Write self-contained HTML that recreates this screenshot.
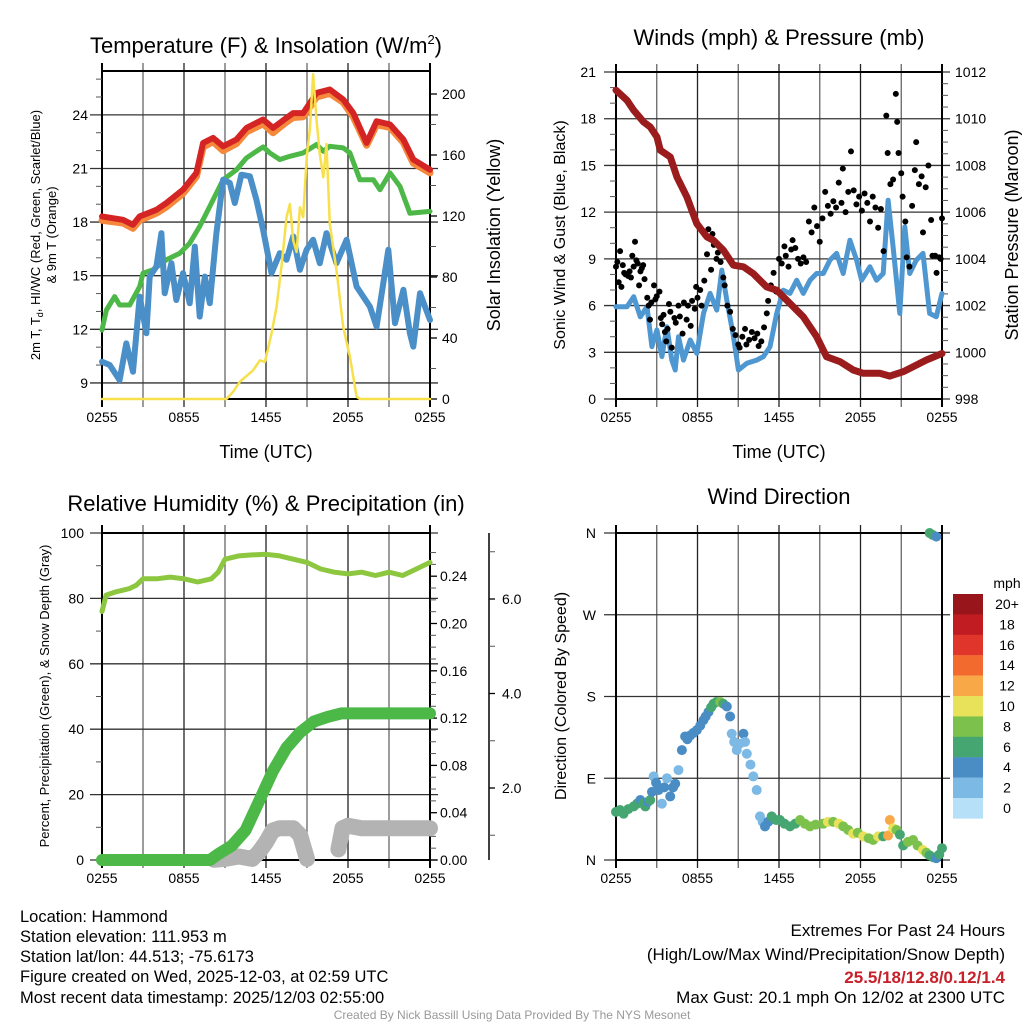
<!DOCTYPE html>
<html><head><meta charset="utf-8"><title>Mesonet Meteogram - Hammond</title>
<style>
html,body{margin:0;padding:0;background:#fff;}
svg{display:block;font-family:"Liberation Sans",Arial,sans-serif;}
</style></head>
<body>
<svg id="chart" xmlns="http://www.w3.org/2000/svg" width="1024" height="1024" viewBox="0 0 1024 1024">
<rect x="0" y="0" width="1024" height="1024" fill="#fff"/>
<g id="layer"></g>
<!-- Titles -->
<text x="266" y="53" font-size="22" text-anchor="middle">Temperature (F) &amp; Insolation (W/m<tspan font-size="13" dy="-9">2</tspan><tspan dy="9">)</tspan></text>
<text x="779" y="45" font-size="22" text-anchor="middle">Winds (mph) &amp; Pressure (mb)</text>
<text x="266" y="511" font-size="22" text-anchor="middle">Relative Humidity (%) &amp; Precipitation (in)</text>
<text x="779" y="504" font-size="22" text-anchor="middle">Wind Direction</text>
<!-- axis titles -->
<text x="266" y="458" font-size="18" text-anchor="middle">Time (UTC)</text>
<text x="779" y="458" font-size="18" text-anchor="middle">Time (UTC)</text>
<text transform="translate(40,235) rotate(-90)" font-size="13" text-anchor="middle">2m T, T<tspan font-size="9" dy="3">d</tspan><tspan dy="-3">, HI/WC (Red, Green, Scarlet/Blue)</tspan></text>
<text transform="translate(56,235) rotate(-90)" font-size="13" text-anchor="middle">&amp; 9m T (Orange)</text>
<text transform="translate(500,235) rotate(-90)" font-size="18" text-anchor="middle">Solar Insolation (Yellow)</text>
<text transform="translate(565,235) rotate(-90)" font-size="16" text-anchor="middle">Sonic Wind &amp; Gust (Blue, Black)</text>
<text transform="translate(1018,235) rotate(-90)" font-size="18" text-anchor="middle">Station Pressure (Maroon)</text>
<text transform="translate(49,696) rotate(-90)" font-size="13" text-anchor="middle">Percent, Precipitation (Green), &amp; Snow Depth (Gray)</text>
<text transform="translate(566,696) rotate(-90)" font-size="16" text-anchor="middle">Direction (Colored By Speed)</text>
<!-- footer -->
<g font-size="16.5">
<text x="20" y="922">Location: Hammond</text>
<text x="20" y="942">Station elevation: 111.953 m</text>
<text x="20" y="962">Station lat/lon: 44.513; -75.6173</text>
<text x="20" y="982">Figure created on Wed, 2025-12-03, at 02:59 UTC</text>
<text x="20" y="1003">Most recent data timestamp: 2025/12/03 02:55:00</text>
</g>
<g font-size="17" text-anchor="end">
<text x="1005" y="936">Extremes For Past 24 Hours</text>
<text x="1005" y="960">(High/Low/Max Wind/Precipitation/Snow Depth)</text>
<text x="1005" y="983" fill="#c8202a" font-weight="bold">25.5/18/12.8/0.12/1.4</text>
<text x="1005" y="1003">Max Gust: 20.1 mph On 12/02 at 2300 UTC</text>
</g>
<text x="512" y="1019" font-size="12" fill="#999" text-anchor="middle">Created By Nick Bassill Using Data Provided By The NYS Mesonet</text>
</svg>
<script>
// ---------- Data ----------
const timeLabels = ["0255","0855","1455","2055","0255"];
const timeLabelHours = [0,6,12,18,24];
const tempTicks = [9,12,15,18,21,24];
const solarTicks = [0,40,80,120,160,200];
const windTicks = [0,3,6,9,12,15,18,21];
const presTicks = [998,1000,1002,1004,1006,1008,1010,1012];
const rhTicks = [0,20,40,60,80,100];
const precipTicks = ["0.00","0.04","0.08","0.12","0.16","0.20","0.24"];
const snowTicks = ["2.0","4.0","6.0"];
const dirLabels = ["N","E","S","W","N"];
const dirTickDeg = [0,90,180,270,360];

const tempTimes = [0,1.54,2.27,2.76,3.98,4.71,5.93,6.91,7.4,8.13,8.86,9.84,10.57,11.79,12.52,13.5,13.99,14.72,15.7,16.67,17.65,18.38,19.36,20.09,21.07,22.05,22.78,24];
const tempVals = [18.32,18.13,17.85,18.32,18.69,19.07,19.81,20.75,22.43,22.71,22.24,22.62,23.27,23.74,23.27,23.83,24.1,24.1,25.23,25.42,24.86,24.11,22.43,23.64,23.46,22.62,21.5,20.93];
const temp9mVals = [18.1,17.95,17.65,18.1,18.5,18.85,19.6,20.55,22.2,22.5,22.0,22.4,23.05,23.5,23.0,23.6,23.85,23.9,25.0,25.2,24.7,23.9,22.3,23.45,23.3,22.45,21.3,20.75];
const hiTimes = [0,0.32,0.93,1.29,2.03,2.76,3.0,3.74,4.71,5.69,6.42,7.15,7.89,8.86,9.84,10.57,11.79,12.28,13.01,13.75,14.72,15.7,16.19,16.67,17.65,18.14,18.87,19.85,20.34,21.07,21.8,22.53,24];
const hiVals = [11.96,13.08,13.83,13.36,13.36,14.39,15.14,15.33,15.89,16.26,16.82,17.76,18.88,20.37,20.93,21.59,22.21,21.87,21.5,21.68,21.87,22.34,21.96,22.24,22.15,21.87,20.37,20.37,19.81,20.75,20.0,18.5,18.6];
const dewTimes = [0,0.56,1.29,1.78,2.27,2.76,3.25,3.49,3.98,4.35,4.59,5.08,5.44,5.93,6.42,6.79,7.15,7.52,7.89,8.37,8.86,9.35,9.72,10.2,10.82,11.3,11.79,12.4,13.01,13.5,13.99,14.48,14.97,15.45,15.94,16.43,17.16,17.9,18.63,19.6,20.09,20.58,20.95,21.44,22.05,22.53,22.78,23.27,24];
const dewVals = [10.19,10.0,9.16,11.21,9.63,13.83,11.78,14.95,15.51,17.38,14.02,15.7,13.64,15.14,13.46,16.63,12.71,14.95,13.46,17.38,20.37,20.19,19.07,20.65,20.56,19.25,17.57,15.14,16.26,15.89,17.2,15.33,16.45,17.01,15.7,17.38,15.7,17.01,14.39,13.27,12.15,14.58,16.45,12.34,14.21,11.78,11.03,14.02,12.52];
const solarTimes = [0,9.11,9.6,10.08,11.06,11.55,11.92,12.4,12.77,13.13,13.5,13.75,13.99,14.24,14.48,14.72,14.97,15.21,15.45,15.7,15.94,16.19,16.43,16.67,17.16,17.65,18.14,18.63,18.87,24];
const solarVals = [0,0,4.8,11.3,18.9,25.4,24.3,42.9,60.3,86.5,119.2,127.9,104,96.4,125.8,119.2,158,177.5,213,182.4,160.6,145.4,167.2,114.8,84.3,47.3,27.7,1.5,0,0];

const presTimes = [0,0.81,1.3,2.03,2.52,3.01,3.26,4.0,4.48,5.22,5.95,6.69,7.18,7.91,8.64,9.38,10.11,11.09,11.83,12.81,13.79,14.77,15.5,16.48,17.46,18.2,19.42,20.16,21.14,21.87,22.85,24];
const presVals = [1011.22,1010.79,1010.36,1009.86,1009.65,1009.22,1008.65,1008.36,1007.51,1006.65,1005.51,1004.94,1004.79,1004.37,1003.73,1003.66,1003.37,1002.8,1002.66,1002.09,1001.52,1000.67,999.81,999.6,999.24,999.1,999.1,998.98,999.17,999.38,999.67,999.95];
const windTimes = [0,0.81,1.3,1.79,2.28,2.64,3.01,3.38,3.75,4.11,4.36,4.6,4.97,5.46,5.95,6.44,6.93,7.42,7.79,8.16,8.65,9.01,9.63,10.36,10.85,11.34,11.83,12.32,12.81,13.3,13.79,14.28,14.77,15.26,15.75,16.24,16.73,17.22,17.71,18.08,18.69,19.18,19.67,20.03,20.4,20.89,21.26,21.62,22.11,22.6,23.09,23.58,24];
const windVals = [5.92,5.92,6.57,5.28,5.92,3.36,4.43,2.72,4.64,2.5,1.86,4.0,2.5,3.79,2.93,5.5,6.78,5.71,8.28,6.35,4.0,1.86,2.29,2.5,2.72,3.36,5.5,6.99,6.78,7.63,6.78,7.63,8.06,8.06,8.92,9.35,8.06,10.2,8.92,7.63,8.49,7.63,8.06,12.77,9.77,5.5,11.06,8.06,8.92,9.35,5.5,5.28,6.78];
const gustTimes = [0,0.1,0.2,0.3,0.4,0.5,0.6,0.7,0.9,1.0,1.1,1.2,1.3,1.4,1.5,1.6,1.7,1.8,1.9,2.0,2.1,2.3,2.4,2.5,2.6,2.8,2.9,3.0,3.2,3.3,3.4,3.5,3.6,3.7,3.8,3.9,4.0,4.1,4.3,4.4,4.6,4.7,4.9,5.0,5.2,5.3,5.5,5.6,5.8,5.9,6.0,6.2,6.3,6.5,6.7,6.8,7.0,7.1,7.2,7.4,7.5,7.7,7.9,8.0,8.2,8.4,8.6,8.8,9.0,9.1,9.3,9.5,9.6,9.8,10.0,10.2,10.4,10.5,10.7,10.9,11.1,11.2,11.4,11.6,11.8,12.0,12.2,12.4,12.5,12.7,12.9,13.0,13.2,13.4,13.6,13.8,14.0,14.2,14.4,14.6,14.8,15.0,15.2,15.4,15.6,15.8,16.0,16.2,16.4,16.6,16.7,16.9,17.1,17.3,17.5,17.7,17.9,18.1,18.3,18.5,18.7,18.9,19.1,19.3,19.5,19.7,19.9,20.0,20.2,20.4,20.6,20.7,20.8,21.0,21.1,21.3,21.4,21.6,21.8,22.0,22.1,22.3,22.5,22.6,22.8,23.0,23.2,23.3,23.5,23.6,23.8,23.9,24.0];
const gustVals = [8.5,8.8,7.5,9.5,7.2,8.6,8.1,8.0,7.9,8.2,7.8,9.2,8.5,10.1,8.9,8.7,7.3,8.2,8.4,8.6,7.7,6.5,6.0,5.1,6.2,7.3,6.4,6.6,6.9,5.2,4.8,5.4,4.3,3.7,4.5,6.1,5.6,3.3,5.2,4.9,6.0,5.3,4.2,6.2,5.1,6.0,4.7,6.3,5.8,7.2,6.5,7.0,6.0,7.6,9.3,10.9,8.3,10.6,9.9,9.0,9.4,8.8,7.8,7.3,6.0,5.6,4.5,4.1,3.5,3.3,4.0,4.5,3.5,3.8,4.3,3.9,4.2,3.4,3.7,4.6,5.5,6.3,7.3,8.1,6.9,9.0,8.7,9.8,9.2,8.5,9.6,10.2,9.7,9.0,8.7,9.1,8.8,11.4,10.7,12.3,11.1,10.1,11.6,13.3,12.4,11.9,12.7,12.3,13.9,12.6,14.8,12.0,13.3,15.9,13.4,12.5,13.0,12.1,13.2,12.6,11.4,13.0,12.3,11.0,12.2,9.5,18.2,15.8,13.8,14.1,19.6,17.8,15.8,14.5,13.0,11.4,9.1,8.5,12.4,14.7,16.5,13.8,14.3,10.7,13.6,15.0,11.5,9.2,9.2,8.1,9.1,9.0,11.6];

const rhTimes = [0,0.3,1,2,2.5,3,4,5,6,7,8,8.5,9,10,11,12,13,14,15,16,17,18,19,20,21,22,23,24];
const rhVals = [76,81,82,83,84,86,86,86.5,86,85,86,88,92,93,93.3,93.5,93,92,91,89,88,87.5,88,87,88,87,89,91];
const precipTimes = [0,7.9,8.5,9.5,10.5,11.5,12.5,13.5,14.5,15.5,16.5,17.5,24];
const precipVals = [0,0,0.005,0.012,0.025,0.05,0.075,0.095,0.108,0.117,0.121,0.124,0.124];
const snowTimesA = [8.2,9,10,11,11.5,12,12.5,13,14,14.5,15];
const snowValsA = [0.48,0.5,0.55,0.5,0.65,0.85,1.1,1.15,1.15,1.0,0.5];
const snowTimesB = [17.3,17.6,18,19,24];
const snowValsB = [0.7,1.15,1.2,1.15,1.15];

const dirTimes = [0,0.3,0.56,0.9,1.3,1.55,1.79,2.0,2.16,2.35,2.52,2.65,2.77,2.95,3.13,3.38,3.55,3.75,3.99,4.2,4.36,4.6,4.85,5.09,5.25,5.46,5.7,5.95,6.2,6.44,6.6,6.81,7.0,7.18,7.4,7.67,7.9,8.16,8.4,8.52,8.7,8.89,9.1,9.38,9.5,9.63,9.9,10.11,10.36,10.6,10.8,10.97,11.2,11.46,11.8,12.07,12.4,12.81,13.2,13.55,13.9,14.28,14.7,15.26,15.6,15.99,16.4,16.73,17.1,17.46,17.8,18.2,18.6,18.93,19.3,19.67,20.03,20.16,20.4,20.65,20.9,21.14,21.5,21.87,22.2,22.6,22.85,23.09,23.35,23.58,23.8,24,23.09,23.3,23.58];
const dirVals = [53,55,51,56,59,62,66,62,59,64,66,75,92,85,77,62,80,90,70,80,84,99,121,136,133,137,140,143,148,154,158,163,168,172,174,174,172,169,158,139,130,121,128,139,130,117,105,92,77,48,42,37,42,48,44,44,40,37,40,44,40,37,39,40,42,42,40,37,33,29,30,26,24,22,26,26,27,44,35,33,28,16,20,22,16,11,8,5,3,2,6,13,360,358,356];
const dirSpeeds = [6,6,6,6,6,6,5,6,6,5,6,4,2,4,4,2,4,2,4,4,4,2,4,4,4,4,4,4,4,4,4,4,6,6,6,8,6,4,4,2,2,2,2,4,2,2,2,2,2,2,2,4,4,6,6,6,6,6,6,8,8,8,8,8,10,8,10,8,8,10,8,10,8,8,10,6,12,12,10,8,6,6,8,8,8,10,8,6,6,4,6,6,6,6,4];

const cbLabels = ["20+","18","16","14","12","10","8","6","4","2","0"];
const cbColors = ["#98161b","#c01c22","#e0352a","#f26a2d","#f9a847","#e8e15a","#7dc14d","#46a672","#4a8cc4","#7cb9e4","#b6e0f7"];

// ---------- Scales ----------
const P1 = {l:102,r:430,t:71,b:399};
const P2 = {l:616,r:942,t:72,b:399};
const P3 = {l:102,r:430,t:533,b:860};
const P4 = {l:616,r:942,t:533,b:860};
const xs = (p,t) => p.l + t*(p.r-p.l)/24;
const yTemp = v => 399 - (v-8.1)*17.87;
const ySolar = v => 399 - v*1.525;
const yWind = v => 399 - v*15.57;
const yPres = v => 399 - (v-998)*(327/14);
const yRH = v => 860 - v*3.27;
const yPrecip = v => 860 - v*1182.5;
const ySnow = v => 882.5 - v*47.25;
const yDir = d => 860 - d*327/360;

const NS = "http://www.w3.org/2000/svg";
const layer = document.getElementById("layer");
function mk(tag, attrs, parent){
  const e = document.createElementNS(NS, tag);
  for (const k in attrs) e.setAttribute(k, attrs[k]);
  (parent||layer).appendChild(e);
  return e;
}
function txt(x,y,s,size,anchor){
  const e = mk("text",{x:x,y:y,"font-size":size,"text-anchor":anchor});
  e.textContent = s;
  return e;
}
function pathFrom(ts, vs, p, yf){
  let d = "";
  for (let i=0;i<ts.length;i++) d += (i?"L":"M") + xs(p,ts[i]).toFixed(1) + "," + yf(vs[i]).toFixed(1);
  return d;
}

// ---------- Frames, grids ----------
function frame(p, name, hLines){
  for (let h=3; h<24; h+=3){
    const g = mk("line",{x1:xs(p,h),x2:xs(p,h),y1:p.t-8,y2:p.b+8,stroke:(h%6===0)?"#222":"#666","stroke-width":1.3});
    
    
  }
  hLines.forEach(y=>{
    const g = mk("line",{x1:p.l-12,x2:p.r+8,y1:y,y2:y,stroke:"#333","stroke-width":1.3});
    
    
  });
  const b = mk("rect",{x:p.l,y:p.t,width:p.r-p.l,height:p.b-p.t,fill:"none",stroke:"#000","stroke-width":2});
  
  
  const lv = mk("line",{x1:p.l,x2:p.l,y1:p.t-8,y2:p.b+8,stroke:"#000","stroke-width":2});
  
  
  const rv = mk("line",{x1:p.r,x2:p.r,y1:p.t-8,y2:p.b+8,stroke:"#000","stroke-width":2});
  
  
  timeLabels.forEach((s,i)=>{
    const t = txt(xs(p,timeLabelHours[i]), p.b+23, s, 14, "middle");
    
    
  });
}
frame(P1,"temperature",tempTicks.map(yTemp));
frame(P2,"winds",windTicks.map(yWind));
frame(P3,"humidity",rhTicks.map(yRH));
frame(P4,"direction",dirTickDeg.map(yDir));

// minor ticks
function minor(x, ys, dir){
  ys.forEach(y=>{
    const m = mk("line",{x1:x,x2:x+dir*6,y1:y,y2:y,stroke:"#555","stroke-width":1});
    
    
  });
}
const m1=[];for(let v=9;v<=26;v++) if(v%3) m1.push(yTemp(v)); minor(P1.l,m1,-1);
const m2=[];for(let v=0;v<=210;v+=20) if(v%40) m2.push(ySolar(v)); minor(P1.r,m2,1);
const m3=[];for(let v=0;v<=21;v++) if(v%3) m3.push(yWind(v)); minor(P2.l,m3,-1);
const m4=[];for(let v=998.5;v<=1012;v+=0.5) if(Math.abs(v-Math.round(v/2)*2)>0.01) m4.push(yPres(v)); minor(P2.r,m4,1);
const m5=[];for(let v=10;v<=100;v+=20) m5.push(yRH(v)); minor(P3.l,m5,-1);
const m6=[];for(let v=0.01;v<=0.27;v+=0.01) if(Math.abs(v*25-Math.round(v*25))>0.01) m6.push(yPrecip(v)); minor(P3.r,m6,1);

// tick labels
tempTicks.forEach(v=>{const t=txt(88,yTemp(v)+5,String(v),14,"end");});
solarTicks.forEach(v=>{const t=txt(442,ySolar(v)+5,String(v),14,"start");
  const k=mk("line",{x1:430,x2:437,y1:ySolar(v),y2:ySolar(v),stroke:"#000","stroke-width":1.3});});
windTicks.forEach(v=>{const t=txt(596,yWind(v)+5,String(v),14,"end");});
presTicks.forEach(v=>{const t=txt(955,yPres(v)+5,String(v),14,"start");});
rhTicks.forEach(v=>{const t=txt(84,yRH(v)+5,String(v),14,"end");});
precipTicks.forEach(s=>{const v=parseFloat(s);const t=txt(440,yPrecip(v)+5,s,14,"start");
  const k=mk("line",{x1:430,x2:437,y1:yPrecip(v),y2:yPrecip(v),stroke:"#000","stroke-width":1.3});});
const snowAxis = mk("line",{x1:489,x2:489,y1:533,y2:860,stroke:"#000","stroke-width":1.5});


snowTicks.forEach(s=>{const v=parseFloat(s);const t=txt(502,ySnow(v)+5,s,14,"start");
  const k=mk("line",{x1:489,x2:495,y1:ySnow(v),y2:ySnow(v),stroke:"#000","stroke-width":1.3});});
const sm=[];for(let v=1;v<=7;v++) if(v%2) sm.push(ySnow(v)); minor(489,sm.filter(y=>y>535&&y<858),1);
dirLabels.forEach((s,i)=>{const t=txt(596,yDir(dirTickDeg[i])+5,s,14,"end");});

// ---------- Series ----------
function line(ts,vs,p,yf,color,w,name){
  const e = mk("path",{d:pathFrom(ts,vs,p,yf),fill:"none",stroke:color,"stroke-width":w,"stroke-linejoin":"round","stroke-linecap":"round"});
  
  
  return e;
}
// Panel 1
line(tempTimes,temp9mVals,P1,yTemp,"#f5883a",7,"temperature-9m-line");
line(tempTimes,tempVals,P1,yTemp,"#d42424",6,"temperature-2m-line");
line(hiTimes,hiVals,P1,yTemp,"#4db848",5,"heat-index-line");
line(dewTimes,dewVals,P1,yTemp,"#4a8fc7",6,"dewpoint-line");
line(solarTimes,solarVals,P1,ySolar,"#f7e04b",2.5,"insolation-line");
// Panel 2
line(windTimes,windVals,P2,yWind,"#4f97d1",5,"sonic-wind-line");
gustTimes.forEach((t,i)=>{
  const c = mk("circle",{cx:xs(P2,t),cy:yWind(gustVals[i]),r:3,fill:"#000"});
  
  
});
line(presTimes,presVals,P2,yPres,"#9b1c1c",7,"pressure-line");
// Panel 3
line(snowTimesA,snowValsA,P3,ySnow,"#b3b3b3",16,"snow-depth-line");
line(snowTimesB,snowValsB,P3,ySnow,"#b3b3b3",16,"snow-depth-line-2");
line(precipTimes,precipVals,P3,yPrecip,"#4cb848",12,"precipitation-line");
line(rhTimes,rhVals,P3,yRH,"#8dc63f",5,"relative-humidity-line");
// Panel 4
function speedColor(s){
  const idx = Math.min(10, Math.floor(s/2));
  return cbColors[10-idx];
}
dirTimes.forEach((t,i)=>{
  const c = mk("circle",{cx:xs(P4,t),cy:yDir(dirVals[i]),r:5,fill:speedColor(dirSpeeds[i])});
  
  
});
// Colorbar
const cbTitle = txt(1007,588,"mph",14,"middle");


cbColors.forEach((c,i)=>{
  const r = mk("rect",{x:953,y:594+i*20.4,width:30,height:20.6,fill:c});
  
  
  const t = txt(1007,594+i*20.4+15,cbLabels[i],14,"middle");
  
  
});
</script>
</body></html>
